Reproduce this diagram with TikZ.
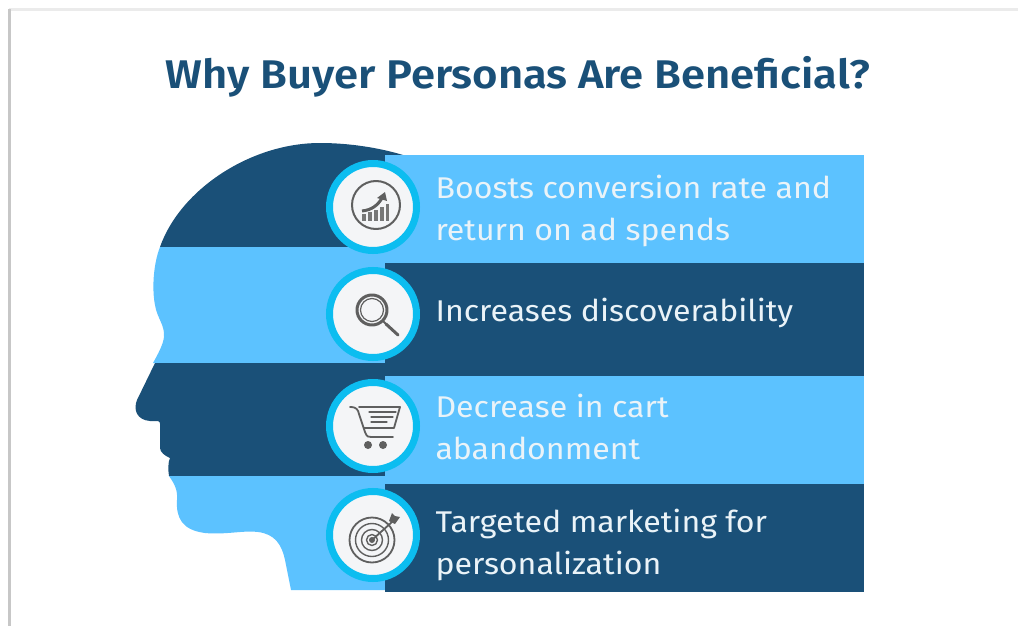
\documentclass[tikz,border=0pt]{standalone}
\usepackage{fontspec}
\setmainfont{Fira Sans}
\newfontfamily\titlefont[FakeStretch=1.09,BoldFont={Fira Sans SemiBold}]{Fira Sans}
\newfontfamily\bodyfont[FakeStretch=1.07]{Fira Sans}
\definecolor{darkbar}{HTML}{1A5078}
\definecolor{lightbar}{HTML}{5CC2FF}
\definecolor{ringc}{HTML}{0CBDF0}
\definecolor{discc}{HTML}{F4F5F7}
\definecolor{iconc}{HTML}{5F5F5F}
\definecolor{bodytext}{HTML}{EAF3F8}
\tikzset{
  px/.style={x=1pt,y=-1pt},
  disc/.style={circle,draw=ringc,line width=7pt,fill=discc,minimum size=87pt,inner sep=0pt},
  label/.style={anchor=west,align=left,text=bodytext,font=\bodyfont\fontsize{30}{42}\selectfont},
  icon/.style={draw=iconc,line width=1.8pt,line cap=round,line join=round},
  iconfine/.style={draw=iconc,line width=1.2pt,line cap=round,line join=round},
}
\begin{document}
\begin{tikzpicture}[px]
\useasboundingbox (0,0) rectangle (1018,626);
\fill[white] (0,0) rectangle (1018,626);
% page edge
\fill[black!8] (9,8) rectangle (1018,11);
\fill[black!22] (8,9) rectangle (11,626);
% title
\node[font=\titlefont\fontsize{40}{44}\selectfont\bfseries,text=darkbar,anchor=center] (title) at (518,77) {Why Buyer Personas Are Beneficial?};
% head bands
\fill[darkbar] (160,247) .. controls (180,190) and (250,143) .. (320,143)
  .. controls (350,143) and (380,148) .. (403,155) -- (403,247) -- cycle;
\fill[lightbar] (160,247) .. controls (153,265) and (152,290) .. (155,305)
  .. controls (157,318) and (165,325) .. (164,337)
  .. controls (163,345) and (158,354) .. (153,363) -- (403,363) -- (403,247) -- cycle;
\fill[darkbar] (155,363) -- (137,400) .. controls (133,410) and (137,420) .. (150,421)
  -- (158,421) .. controls (161,422) and (160,425) .. (160,430) -- (160,448)
  .. controls (160,452) and (165,456) .. (170,458)
  .. controls (168,462) and (168,470) .. (169,476) -- (403,476) -- (403,363) -- cycle;
\fill[lightbar] (169,476) .. controls (174,483) and (178,490) .. (177,500)
  .. controls (176,518) and (182,530) .. (205,533)
  .. controls (225,535) and (245,530) .. (258,532)
  .. controls (275,534) and (282,545) .. (285,560)
  -- (291,590) -- (403,590) -- (403,476) -- cycle;
% bars
\fill[lightbar] (385,155) rectangle (864,263);
\fill[darkbar] (385,263) rectangle (864,376);
\fill[lightbar] (385,376) rectangle (864,484);
\fill[darkbar] (385,484) rectangle (864,592);
% discs
\node[disc] (d1) at (373,207) {};
\node[disc] (d2) at (373,314) {};
\node[disc] (d3) at (373,426) {};
\node[disc] (d4) at (373,535) {};
% labels
\node[label] (t1) at (432,211) {Boosts conversion rate and\\return on ad spends};
\node[label] (t2) at (432,313) {Increases discoverability};
\node[label] (t3) at (432,427) {Decrease in cart\\abandonment};
\node[label] (t4) at (432,545) {Targeted marketing for\\personalization};
% icon 1: chart
\begin{scope}[shift={(d1.center)},xshift=3pt,yshift=2pt]
  \draw[icon,line width=2pt] (0,0) circle (24);
  \fill[iconc!85] (-14,16) rectangle (-10,9);
  \fill[iconc!85] (-8,16) rectangle (-4,7);
  \fill[iconc!85] (-2,16) rectangle (2,5);
  \fill[iconc!85] (4,16) rectangle (8,2);
  \fill[iconc!85] (10,16) rectangle (13,-1);
  \draw[iconc,line width=3pt] (-14,6) .. controls (-4,5) and (2,0) .. (6,-7);
  \fill[iconc] (1,-7) -- (9,-13) -- (11,-4) -- cycle;
\end{scope}
% icon 2: magnifier
\begin{scope}[shift={(d2.center)}]
  \draw[icon,line width=3pt] (-1,-4) circle (15);
  \draw[iconfine] (-1,-4) circle (11.5);
  \draw[icon,line width=2pt] (10,7) -- (14,11);
  \draw[icon,line width=3pt] (13,10) -- (25,21);
\end{scope}
% icon 3: cart
\begin{scope}[shift={(d3.center)}]
  \draw[icon] (-23,-19) .. controls (-16,-19) and (-15,-16) .. (-14,-12) -- (-8,6) .. controls (-6,11) and (-5,11) .. (-2,11) -- (20,11);
  \draw[icon] (-14,-19) -- (27,-19) -- (21,2) -- (-9,2);
  \draw[iconfine] (-4,-14) -- (23,-14);
  \draw[iconfine] (-2,-9) -- (20,-9);
  \draw[iconfine] (-2,-4) -- (14,-4);
  \fill[iconc] (-5,19) circle (4);
  \fill[iconc] (10,19) circle (4);
\end{scope}
% icon 4: target
\begin{scope}[shift={(d4.center)}]
  \draw[icon] (-1,5) circle (22.5);
  \draw[iconfine,line width=1.4pt] (-1,5) circle (16.5);
  \draw[iconfine,line width=1.4pt] (-1,5) circle (10.5);
  \draw[iconfine,line width=1.4pt] (-1,5) circle (5.5);
  \fill[iconc] (-1,5) circle (3);
  \draw[icon] (-1,5) -- (19,-13);
  \fill[iconc] (16,-14) -- (19,-22) -- (22,-19) -- (27,-18) -- (22,-11) -- cycle;
\end{scope}
\end{tikzpicture}
\end{document}
